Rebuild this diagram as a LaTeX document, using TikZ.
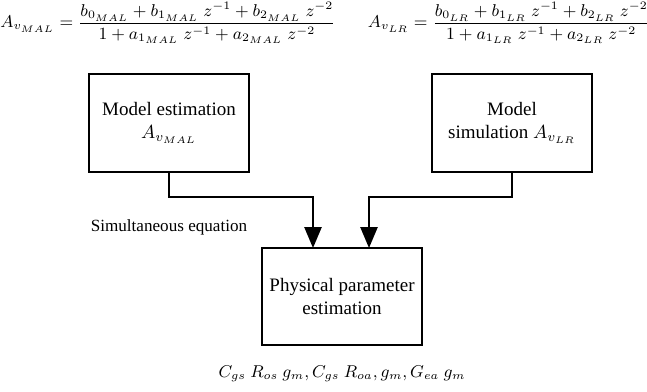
\documentclass[tikz,border=0pt]{standalone}
\usepackage{amsmath}
\usepackage[no-math]{fontspec}
\setmainfont{Liberation Serif}
\usetikzlibrary{arrows.meta}
\tikzset{
  blk/.style={draw, line width=1.1pt, minimum width=2.96cm, minimum height=1.81cm, align=center},
  flow/.style={line width=1.1pt, -{Triangle[length=11pt,width=9pt]}}
}
\begin{document}
\begin{tikzpicture}[x=0.0185cm,y=-0.0185cm]
\useasboundingbox (0,0) rectangle (647,391);
% transfer functions
\node[font=\small] (eqmal) at (168,23) {$A_{v_{MAL}} = \dfrac{b_{0_{MAL}} + b_{1_{MAL}}\ z^{-1} + b_{2_{MAL}}\ z^{-2}}{1 + a_{1_{MAL}}\ z^{-1} + a_{2_{MAL}}\ z^{-2}}$};
\node[font=\small] (eqlr) at (509,23) {$A_{v_{LR}} = \dfrac{b_{0_{LR}} + b_{1_{LR}}\ z^{-1} + b_{2_{LR}}\ z^{-2}}{1 + a_{1_{LR}}\ z^{-1} + a_{2_{LR}}\ z^{-2}}$};
% blocks
\node[blk] (est) at (169,123) {Model estimation\\$A_{v_{MAL}}$};
\node[blk] (sim) at (512,123) {Model\\simulation $A_{v_{LR}}$};
\node[blk] (phys) at (342,296.5) {Physical parameter\\estimation};
\coordinate (inl) at (313,248);
\coordinate (inr) at (369,248);
\draw[flow] (est.south) |- (313,197) -- (inl);
\draw[flow] (sim.south) |- (369,197) -- (inr);
\node[font=\small] (simeq) at (169,227) {Simultaneous equation};
\node[font=\small] (res) at (342,374) {$C_{gs}\ R_{os}\ g_m, C_{gs}\ R_{oa}, g_m, G_{ea}\ g_m$};
\end{tikzpicture}
\end{document}
